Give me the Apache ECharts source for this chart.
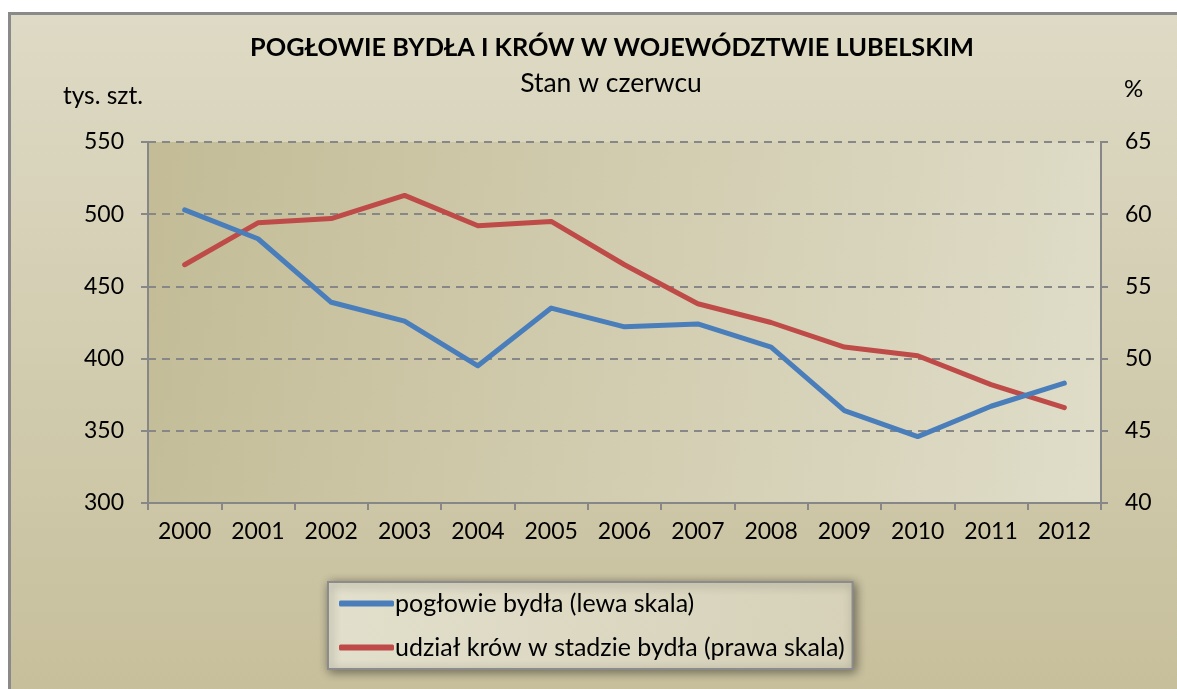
<!DOCTYPE html>
<html>
<head>
<meta charset="utf-8">
<script src="https://cdn.jsdelivr.net/npm/echarts@6/dist/echarts.min.js"></script>
<style>
  html, body { margin: 0; padding: 0; background: #fff; }
  #main { width: 1177px; height: 689px; }
</style>
</head>
<body>
<div id="main"></div>
<script>
// dane
var lata = ['2000', '2001', '2002', '2003', '2004', '2005', '2006', '2007', '2008', '2009', '2010', '2011', '2012'];
var poglowieBydla = [503, 483, 439, 426, 395, 435, 422, 424, 408, 364, 346, 367, 383];
var udzialKrow = [56.5, 59.4, 59.7, 61.3, 59.2, 59.5, 56.5, 53.8, 52.5, 50.8, 50.2, 48.2, 46.6];
var nazwySerii = ['pogłowie bydła (lewa skala)', 'udział krów w stadzie bydła (prawa skala)'];

var font = 'Lato, "Open Sans", sans-serif';
var osKolor = '#878787';

var chart = echarts.init(document.getElementById('main'));
chart.setOption({
  backgroundColor: '#ffffff',
  textStyle: { fontFamily: font },
  title: [
    {
      text: 'POGŁOWIE BYDŁA I KRÓW W WOJEWÓDZTWIE LUBELSKIM',
      left: 607, top: 30, textAlign: 'center',
      textStyle: { fontFamily: font, fontSize: 25.3, fontWeight: 'bold', color: '#000' }
    },
    {
      text: 'Stan w czerwcu',
      left: 606, top: 65, textAlign: 'center',
      textStyle: { fontFamily: font, fontSize: 26.5, fontWeight: 'normal', color: '#000' }
    }
  ],
  graphic: [{
    type: 'rect',
    z: -100,
    shape: { x: 9.5, y: 13.5, width: 1200, height: 700 },
    style: {
      fill: new echarts.graphic.LinearGradient(0, 0, 0, 1, [
        { offset: 0, color: '#dedac5' },
        { offset: 1, color: '#c6be9a' }
      ]),
      stroke: '#8a8a8a',
      lineWidth: 3
    }
  }],
  grid: {
    left: 148, right: 76, top: 142, bottom: 186,
    show: true,
    borderWidth: 0,
    backgroundColor: new echarts.graphic.LinearGradient(0, 0.3, 1, 0.7, [
      { offset: 0, color: '#c3bc97' },
      { offset: 0.5, color: '#d2cdb0' },
      { offset: 1, color: '#dfdcc8' }
    ])
  },
  legend: {
    orient: 'vertical',
    left: 328, top: 582,
    padding: [8, 8, 8, 11],
    itemGap: 17,
    itemWidth: 55,
    itemHeight: 6,
    icon: 'roundRect',
    backgroundColor: new echarts.graphic.LinearGradient(0, 0, 1, 1, [
      { offset: 0, color: '#e2dfcc' },
      { offset: 1, color: '#d6d1b8' }
    ]),
    borderColor: '#8c8c8c',
    borderWidth: 2,
    shadowBlur: 10,
    shadowColor: 'rgba(0,0,0,0.45)',
    shadowOffsetX: 2,
    shadowOffsetY: 2,
    textStyle: { fontFamily: font, fontSize: 25, color: '#000', lineHeight: 27, padding: [0, 0, 0, -4] },
    data: nazwySerii
  },
  xAxis: {
    type: 'category',
    data: lata,
    boundaryGap: true,
    axisLine: { lineStyle: { color: osKolor, width: 2 } },
    axisTick: { show: true, interval: 0, length: 7, lineStyle: { color: osKolor, width: 2 } },
    axisLabel: { interval: 0, fontFamily: font, fontSize: 23, color: '#000', margin: 17 },
    splitLine: { show: false }
  },
  yAxis: [
    {
      type: 'value',
      min: 300, max: 550, interval: 50,
      name: 'tys. szt.',
      nameLocation: 'end',
      nameGap: 46,
      nameTextStyle: { fontFamily: font, fontSize: 24.5, color: '#000', align: 'right', verticalAlign: 'middle', padding: [0, 5, 0, 0] },
      axisLine: { show: true, lineStyle: { color: osKolor, width: 2 } },
      axisTick: { show: true, length: 7, lineStyle: { color: osKolor, width: 2 } },
      axisLabel: { fontFamily: font, fontSize: 23, color: '#000', margin: 24 },
      splitLine: { show: true, lineStyle: { color: osKolor, width: 2, type: [8, 6] } }
    },
    {
      type: 'value',
      min: 40, max: 65, interval: 5,
      position: 'right',
      name: '%',
      nameLocation: 'end',
      nameGap: 53,
      nameTextStyle: { fontFamily: font, fontSize: 24, color: '#000', align: 'left', verticalAlign: 'middle', padding: [0, 0, 0, 23] },
      axisLine: { show: true, lineStyle: { color: osKolor, width: 2 } },
      axisTick: { show: true, length: 7, lineStyle: { color: osKolor, width: 2 } },
      axisLabel: { fontFamily: font, fontSize: 23, color: '#000', margin: 24 },
      splitLine: { show: false }
    }
  ],
  series: [
    {
      name: nazwySerii[0],
      type: 'line',
      yAxisIndex: 0,
      data: poglowieBydla,
      showSymbol: false,
      symbol: 'none',
      color: '#4a7ebb',
      lineStyle: { width: 5, color: '#4a7ebb', cap: 'round', join: 'round' },
      z: 3
    },
    {
      name: nazwySerii[1],
      type: 'line',
      yAxisIndex: 1,
      data: udzialKrow,
      showSymbol: false,
      symbol: 'none',
      color: '#be4b48',
      lineStyle: { width: 5, color: '#be4b48', cap: 'round', join: 'round' },
      z: 2
    }
  ]
});
</script>
</body>
</html>
